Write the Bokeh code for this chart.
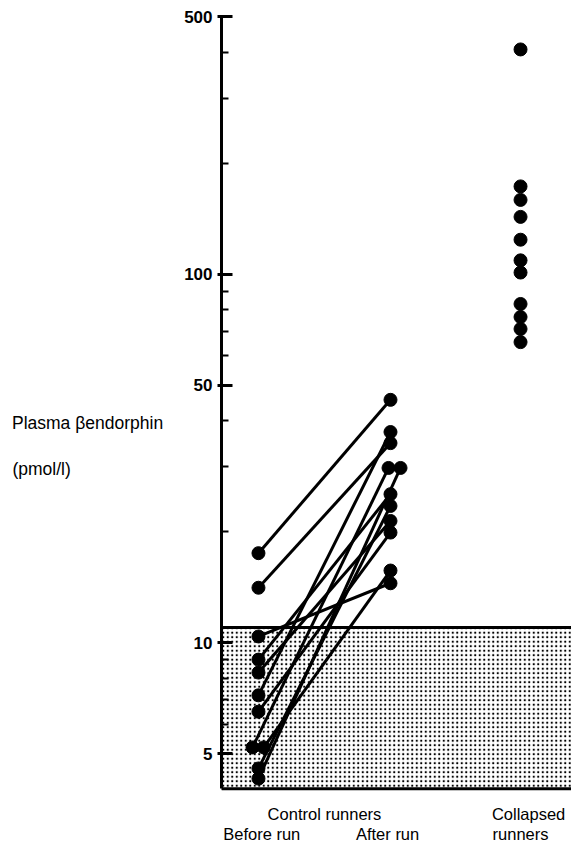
from bokeh.plotting import figure
from bokeh.models import Range1d, FixedTicker, PrintfTickFormatter
from bokeh.core.properties import value
from bokeh.embed import file_html
from bokeh.resources import INLINE

# ---- data (pmol/l) ----
before = [17.5, 14.1, 10.4, 9.0, 8.3, 7.2, 6.5, 5.2, 5.2, 4.56, 4.28]
after = [45.6, 34.8, 14.5, 25.3, 21.4, 37.3, 19.9, 29.8, 15.7, 23.5, 29.8]
before_x = [1, 1, 1, 1, 1, 1, 1, 0.955, 1.04, 1, 1]
after_x = [2, 2, 2, 2, 2, 2, 2, 1.985, 2, 2, 2.076]
collapsed = [407, 173, 159, 143, 124, 109, 101, 83, 76.5, 71, 65.4]
collapsed_x = [2.985] * len(collapsed)
normal_upper = 11.0
normal_lower = 4.02
major_ticks = [5, 10, 50, 100, 500]
minor_ticks = [6, 7, 8, 9, 20, 30, 40, 60, 70, 80, 90, 200, 300, 400]
row1_x = [1.5, 3.046]
row1_y = [3.44, 3.44]
row1_text = ["Control runners", "Collapsed"]
row2_x = [1.025, 1.978, 2.985]
row2_y = [3.02, 3.02, 3.02]
row2_text = ["Before run", "After run", "runners"]
y_title = "Plasma βendorphin"
y_unit = "(pmol/l)"

p = figure(width=571, height=845, output_backend="svg", toolbar_location=None,
           y_axis_type="log", x_range=Range1d(0.72, 3.371), y_range=Range1d(2.818, 500),
           min_border_left=221, min_border_right=0, min_border_top=16, min_border_bottom=0)
p.outline_line_color = None
p.grid.visible = False
p.xaxis.visible = False
p.background_fill_color = "white"

ax = p.yaxis[0]
ax.ticker = FixedTicker(ticks=major_ticks, minor_ticks=minor_ticks)
ax.formatter = PrintfTickFormatter(format="%d")
ax.bounds = (normal_lower, 500)
ax.axis_line_width = 3
ax.axis_line_color = "black"
ax.major_tick_line_width = 3
ax.major_tick_in = 11
ax.major_tick_out = 4
ax.minor_tick_line_width = 2
ax.minor_tick_in = 7
ax.minor_tick_out = 0
ax.major_label_standoff = 5
ax.major_label_text_font = "Liberation Sans"
ax.major_label_text_font_style = "bold"
ax.major_label_text_font_size = "17px"
ax.major_label_text_color = "black"
blank = "\u00a0"
ax.axis_label = "\n".join([blank, blank, y_title, blank, blank, y_unit + blank * 19])
ax.axis_label_orientation = "horizontal"
ax.axis_label_standoff = 18
ax.axis_label_text_font = "Liberation Sans"
ax.axis_label_text_font_style = "normal"
ax.axis_label_text_font_size = "17.5px"
ax.axis_label_text_line_height = 0.754
ax.axis_label_text_color = "black"

# shaded normal range
p.quad(left=0.72, right=3.6, bottom=normal_lower, top=normal_upper,
       fill_color="white", hatch_pattern="dot", hatch_color="black",
       hatch_scale=4.5, hatch_weight=2.8, line_color="black", line_width=3)

p.segment(x0=before_x, y0=before, x1=after_x, y1=after, line_color="black", line_width=3)
p.scatter(before_x, before, size=13, color="black")
p.scatter(after_x, after, size=13, color="black")
p.scatter(collapsed_x, collapsed, size=13, color="black")

p.text(x=row1_x, y=row1_y, text=row1_text, text_align="center", text_baseline="middle",
       text_font=value("Liberation Sans"), text_font_size="16.5px", text_color="black")
p.text(x=row2_x, y=row2_y, text=row2_text, text_align="center", text_baseline="middle",
       text_font=value("Liberation Sans"), text_font_size="16.5px", text_color="black")

open("out.html", "w").write(file_html(p, INLINE))
